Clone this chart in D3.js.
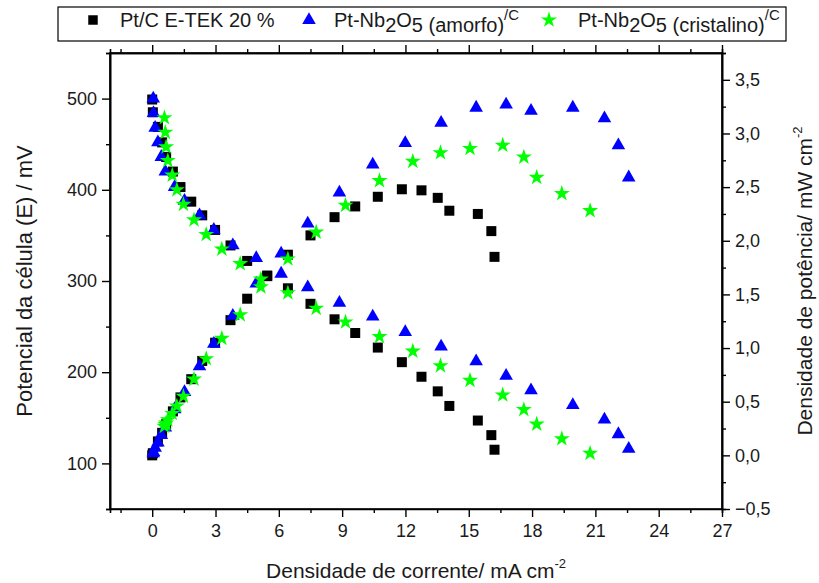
<!DOCTYPE html>
<html>
<head>
<meta charset="utf-8">
<script src="https://cdn.jsdelivr.net/npm/d3@7/dist/d3.min.js"></script>
<style>
  body { margin: 0; background: #fff; }
  svg { font-family: "Liberation Sans", Arial, sans-serif; }
</style>
</head>
<body>
<script>
// Pt/C E-TEK 20 %
const etekJ = [0, 0.03, 0.27, 0.47, 0.66, 0.98, 1.34, 1.85, 2.37, 2.98, 3.71, 4.5, 5.45, 6.43, 7.5, 8.64, 9.62, 10.69, 11.83, 12.76, 13.53, 14.08, 15.43, 16.07, 16.22];
const etekE = [499, 485, 469, 452, 436, 420, 403, 387, 372, 356, 339, 322, 306, 292, 275, 258, 243, 227, 211, 195, 179, 163, 147, 131, 115];
const etekP = [0, 0.02, 0.13, 0.21, 0.29, 0.41, 0.54, 0.71, 0.88, 1.05, 1.26, 1.46, 1.67, 1.87, 2.05, 2.22, 2.32, 2.41, 2.48, 2.47, 2.40, 2.28, 2.25, 2.09, 1.85];

// Pt-Nb2O5 (amorfo)/C
const amorJ = [0.05, 0.06, 0.14, 0.27, 0.43, 0.62, 1.06, 1.53, 2.24, 2.92, 3.82, 4.93, 6.11, 7.37, 8.87, 10.45, 11.99, 13.69, 15.35, 16.77, 17.95, 19.93, 21.43, 22.09, 22.58];
const amorE = [500, 484, 468, 452, 436, 420, 403, 388, 372, 356, 339, 325, 308, 293, 276, 261, 244, 228, 212, 196, 180, 164, 148, 132, 116];
const amorP = [0.02, 0.03, 0.07, 0.12, 0.19, 0.26, 0.43, 0.59, 0.83, 1.04, 1.30, 1.60, 1.88, 2.16, 2.45, 2.71, 2.91, 3.10, 3.24, 3.27, 3.21, 3.24, 3.14, 2.89, 2.59];

// Pt-Nb2O5 (cristalino)/C
const cristJ = [0.58, 0.62, 0.66, 0.74, 0.95, 1.17, 1.48, 1.98, 2.56, 3.30, 4.17, 5.15, 6.43, 7.77, 9.16, 10.77, 12.35, 13.66, 15.06, 16.61, 17.61, 18.22, 19.41, 20.75];
const cristE = [479, 463, 447, 432, 416, 400, 384, 367, 351, 335, 319, 302, 287, 270, 255, 239, 223, 207, 191, 175, 159, 143, 127, 111];
const cristP = [0.27, 0.29, 0.30, 0.33, 0.39, 0.46, 0.55, 0.71, 0.90, 1.09, 1.31, 1.57, 1.83, 2.08, 2.33, 2.56, 2.74, 2.82, 2.86, 2.89, 2.78, 2.59, 2.44, 2.28];

const xTicks = [0, 3, 6, 9, 12, 15, 18, 21, 24, 27];
const yLeftTicks = [100, 200, 300, 400, 500];
const yRightTicks = [-0.5, 0, 0.5, 1, 1.5, 2, 2.5, 3, 3.5];

let width = 819, height = 583;
let margin = {top: 53, right: 97, bottom: 74, left: 110};
let iw = width - margin.left - margin.right,
    ih = height - margin.top - margin.bottom;

let svg = d3.select("body").append("svg")
    .attr("width", width)
    .attr("height", height);

let g = svg.append("g")
    .attr("transform", `translate(${margin.left}, ${margin.top})`);

let x = d3.scaleLinear().domain([-2, 27]).range([0, iw]);
let yL = d3.scaleLinear().domain([50, 550]).range([ih, 0]);
let yR = d3.scaleLinear().domain([-0.5, 3.75]).range([ih, 0]);

const fmtComma = d => d3.format(".1f")(d).replace(".", ",");

// minor ticks first, then major axes on top
function minor(axis, scale, vals) {
    return axis(scale).tickValues(vals).tickSize(4).tickFormat("");
}
const xMinor = d3.range(-1.5, 27, 3);
const yLMinor = d3.range(50, 551, 100);
const yRMinor = d3.range(-0.25, 3.76, 0.5);

g.append("g").attr("transform", `translate(0, ${ih})`).call(minor(d3.axisBottom, x, xMinor));
g.append("g").call(d3.axisBottom(x).tickValues(xMinor).tickSize(-4).tickFormat(""));
g.append("g").call(minor(d3.axisLeft, yL, yLMinor));
g.append("g").attr("transform", `translate(${iw}, 0)`).call(minor(d3.axisRight, yR, yRMinor));

let xAxis = g.append("g").attr("transform", `translate(0, ${ih})`)
    .call(d3.axisBottom(x).tickValues(xTicks).tickSize(8).tickSizeOuter(0).tickPadding(7));
let xTop = g.append("g")
    .call(d3.axisBottom(x).tickValues(xTicks).tickSize(-8).tickSizeOuter(0).tickFormat(""));
let yAxisL = g.append("g")
    .call(d3.axisLeft(yL).tickValues(yLeftTicks).tickSize(8).tickSizeOuter(0).tickPadding(5));
let yAxisR = g.append("g").attr("transform", `translate(${iw}, 0)`)
    .call(d3.axisRight(yR).tickValues(yRightTicks).tickSize(8).tickSizeOuter(0).tickPadding(5).tickFormat(fmtComma));

g.selectAll(".domain").attr("stroke", "#000").attr("stroke-width", 1.6);
g.selectAll(".tick line").attr("stroke", "#000").attr("stroke-width", 1.4);
g.selectAll(".tick text").attr("font-size", 18).attr("fill", "#1a1a1a")
    .attr("font-family", "Liberation Sans, Arial, sans-serif");
xAxis.selectAll(".domain").remove();

// frame
g.append("rect").attr("width", iw).attr("height", ih)
    .attr("fill", "none").attr("stroke", "#000").attr("stroke-width", 1.6);

// series
const series = [
    {J: etekJ, E: etekE, P: etekP, sym: d3.symbolSquare, size: 100, color: "#000000"},
    {J: amorJ, E: amorE, P: amorP, sym: d3.symbolTriangle, size: 80, color: "#0000ff"},
    {J: cristJ, E: cristE, P: cristP, sym: d3.symbolStar, size: 80, color: "#00ff00"}
];

series.forEach(s => {
    let sh = d3.symbol().type(s.sym).size(s.size);
    let pol = s.J.map((j, i) => ({j: j, v: s.E[i]}));
    let pow = s.J.map((j, i) => ({j: j, v: s.P[i]}));
    g.append("g").selectAll("path").data(pol).enter().append("path")
        .attr("d", sh)
        .attr("transform", d => `translate(${x(d.j)}, ${yL(d.v)})`)
        .attr("fill", s.color);
    g.append("g").selectAll("path").data(pow).enter().append("path")
        .attr("d", sh)
        .attr("transform", d => `translate(${x(d.j)}, ${yR(d.v)})`)
        .attr("fill", s.color);
});

// axis titles
svg.append("text")
    .attr("x", margin.left + x(12.5)).attr("y", 578)
    .attr("text-anchor", "middle").attr("font-size", 21).attr("fill", "#1a1a1a")
    .text("Densidade de corrente/ mA cm")
    .append("tspan").attr("dy", -10).attr("font-size", 13).text("-2");

svg.append("text")
    .attr("transform", "translate(32, 281) rotate(-90)")
    .attr("text-anchor", "middle").attr("font-size", 22).attr("fill", "#1a1a1a")
    .text("Potencial da célula (E) / mV");

svg.append("text")
    .attr("transform", "translate(812, 281) rotate(-90)")
    .attr("text-anchor", "middle").attr("font-size", 21).attr("fill", "#1a1a1a")
    .text("Densidade de potência/ mW cm")
    .append("tspan").attr("dy", -10).attr("font-size", 13).text("-2");

// legend
let leg = svg.append("g");
leg.append("rect").attr("x", 58).attr("y", 7).attr("width", 728).attr("height", 34)
    .attr("fill", "#fff").attr("stroke", "#000").attr("stroke-width", 1.2);

const legItems = [
    {sym: d3.symbolSquare, size: 90, color: "#000000", mx: 93, tx: 120,
     parts: [["Pt/C E-TEK 20 %", 0, 20]]},
    {sym: d3.symbolTriangle, size: 80, color: "#0000ff", mx: 309, tx: 334,
     parts: [["Pt-Nb", 0, 20], ["2", 5, 20], ["O", -5, 20], ["5 (amorfo)", 5, 20], ["/C", -12, 15]]},
    {sym: d3.symbolStar, size: 80, color: "#00ff00", mx: 549, tx: 578,
     parts: [["Pt-Nb", 0, 20], ["2", 5, 20], ["O", -5, 20], ["5 (cristalino)", 5, 20], ["/C", -12, 15]]}
];

legItems.forEach(it => {
    leg.append("path").attr("d", d3.symbol().type(it.sym).size(it.size))
        .attr("transform", `translate(${it.mx}, 20)`).attr("fill", it.color);
    let t = leg.append("text").attr("x", it.tx).attr("y", 27)
        .attr("font-size", 20).attr("fill", "#1a1a1a");
    it.parts.forEach(p => {
        t.append("tspan").attr("dy", p[1]).attr("font-size", p[2]).text(p[0]);
    });
});
</script>
</body>
</html>
